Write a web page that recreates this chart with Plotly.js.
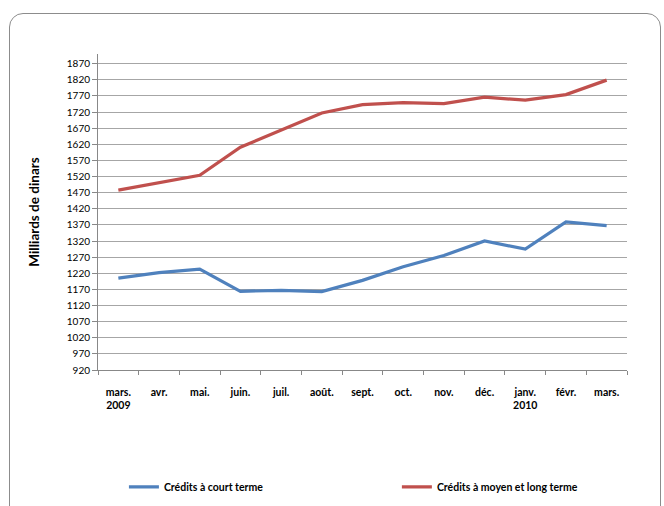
<!DOCTYPE html>
<html>
<head>
<meta charset="utf-8">
<script src="https://cdn.plot.ly/plotly-3.0.1.min.js"></script>
<style>
html,body{margin:0;padding:0;background:#fff;overflow:hidden;}
#wrap{position:relative;width:664px;height:506px;overflow:hidden;}
#chart{position:absolute;left:0;top:0;width:664px;height:506px;}
#frame{position:absolute;left:9px;top:13px;width:650px;height:520px;border:1px solid #8c8c8c;border-radius:14px;pointer-events:none;}
</style>
</head>
<body>
<div id="wrap"><div id="chart"></div><div id="frame"></div></div>
<script>
const categories = ["mars.<br>2009","avr.","mai.","juin.","juil.","août.","sept.","oct.","nov.","déc.","janv.<br>2010","févr.","mars."];
const courtTerme = [1205,1222,1233,1164,1167,1163,1198,1240,1275,1320,1295,1379,1368];
const moyenLongTerme = [1478,1500,1524,1611,1665,1717,1743,1749,1746,1766,1757,1774,1819];
const yTicks = [920,970,1020,1070,1120,1170,1220,1270,1320,1370,1420,1470,1520,1570,1620,1670,1720,1770,1820,1870];

const font = "Lato, 'Open Sans', 'DejaVu Sans', sans-serif";
const traces = [
  {x: categories, y: courtTerme, type: 'scatter', mode: 'lines', name: 'Crédits à court terme',
   line: {color: '#4F81BD', width: 3.2}, legend: 'legend'},
  {x: categories, y: moyenLongTerme, type: 'scatter', mode: 'lines', name: 'Crédits à moyen et long terme',
   line: {color: '#C0504D', width: 3.2}, legend: 'legend2'}
];
const legFont = {size: 10.5, family: font, weight: 'bold'};
const layout = {
  width: 664, height: 506,
  margin: {l: 98, r: 37, t: 54, b: 136, autoexpand: false},
  paper_bgcolor: '#fff', plot_bgcolor: '#fff',
  font: {family: font, color: '#000', size: 10},
  showlegend: true,
  legend: {orientation: 'h', x: 0.049, y: -0.37, xanchor: 'left', yanchor: 'middle', font: legFont, bgcolor: 'rgba(0,0,0,0)'},
  legend2: {orientation: 'h', x: 0.565, y: -0.37, xanchor: 'left', yanchor: 'middle', font: legFont, bgcolor: 'rgba(0,0,0,0)'},
  xaxis: {type: 'category', range: [-0.5, 12.5], showgrid: false, showline: true, linecolor: '#888', linewidth: 1,
          ticks: 'outside', tickson: 'boundaries', ticklen: 4, tickcolor: '#888',
          tickfont: {size: 10.5, family: font, weight: 'bold'}, ticklabelstandoff: 12, fixedrange: true},
  yaxis: {range: [920, 1900], tickvals: yTicks, ticktext: yTicks.map(String),
          showgrid: true, gridcolor: '#a6a6a6', gridwidth: 1, zeroline: false,
          showline: true, linecolor: '#888', linewidth: 1,
          ticks: 'outside', ticklen: 5, tickcolor: '#888', tickfont: {size: 10, family: font},
          title: {text: 'Milliards de dinars', font: {size: 13.5, family: font, weight: 'bold'}, standoff: 24},
          fixedrange: true}
};
Plotly.newPlot('chart', traces, layout, {displayModeBar: false, staticPlot: true});
</script>
</body>
</html>
